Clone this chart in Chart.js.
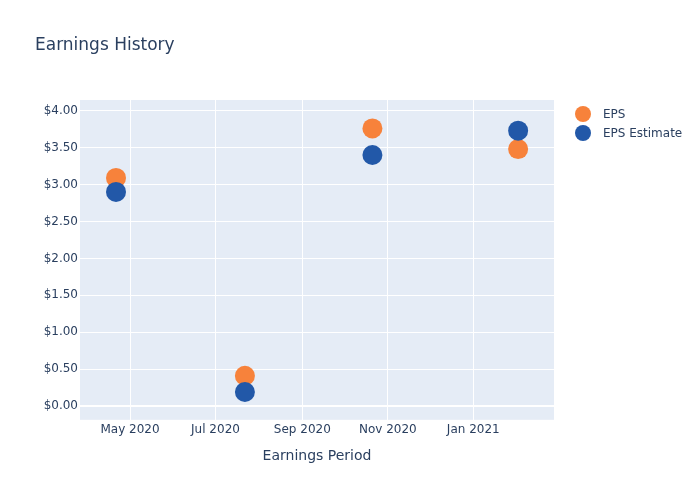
<!DOCTYPE html>
<html>
<head>
<meta charset="utf-8">
<script src="https://cdn.jsdelivr.net/npm/chart.js@4.4.1/dist/chart.umd.min.js"></script>
<style>
  body { margin: 0; background: #fff; }
</style>
</head>
<body>
<canvas id="myChart" width="700" height="500"></canvas>
<script>
    // earnings periods and values
    var periods = ['2020-04-21', '2020-07-22', '2020-10-21', '2021-02-02'];
    var eps = [3.09, 0.41, 3.76, 3.48];
    var epsEstimate = [2.90, 0.19, 3.40, 3.73];

    var yTicks = [0, 0.5, 1, 1.5, 2, 2.5, 3, 3.5, 4];
    var xTickDates = ['2020-05-01', '2020-07-01', '2020-09-01', '2020-11-01', '2021-01-01'];
    var xTickLabels = ['May 2020', 'Jul 2020', 'Sep 2020', 'Nov 2020', 'Jan 2021'];

    var FONT = '"DejaVu Sans", "Open Sans", sans-serif';
    var TEXT = '#2a3f5f';

    // no date adapter available, so dates become day numbers on a linear axis
    function toDay(s) {
        var p = s.split('-');
        return Date.UTC(+p[0], +p[1] - 1, +p[2]) / 86400000;
    }

    var legendPlugin = {
        id: 'sideLegend',
        afterDraw: function(chart) {
            var c = chart.ctx;
            c.save();
            c.font = '12px ' + FONT;
            c.textBaseline = 'middle';
            chart.data.datasets.forEach(function(ds, i) {
                var y = 114 + i * 19;
                c.fillStyle = ds.backgroundColor;
                c.beginPath();
                c.arc(583, y, 8, 0, Math.PI * 2);
                c.fill();
                c.fillStyle = TEXT;
                c.fillText(ds.label, 603, y + 1);
            });
            c.restore();
        }
    };

    var ctx = document.getElementById('myChart').getContext('2d');
    var myChart = new Chart(ctx, {
        type: 'scatter',
        data: {
            datasets: [
                {
                    label: 'EPS',
                    data: periods.map(function(d, i) { return {x: toDay(d), y: eps[i]}; }),
                    backgroundColor: '#f7823b',
                    borderColor: '#f7823b',
                    pointRadius: 10,
                    pointHoverRadius: 10,
                    borderWidth: 0,
                    order: 1
                },
                {
                    label: 'EPS Estimate',
                    data: periods.map(function(d, i) { return {x: toDay(d), y: epsEstimate[i]}; }),
                    backgroundColor: '#2258a8',
                    borderColor: '#2258a8',
                    pointRadius: 10,
                    pointHoverRadius: 10,
                    borderWidth: 0,
                    order: 0
                }
            ]
        },
        options: {
            responsive: false,
            animation: false,
            layout: {
                padding: {left: 35, right: 146, top: 0, bottom: 35}
            },
            scales: {
                x: {
                    type: 'linear',
                    min: toDay('2020-05-01') - 35.7,
                    max: toDay('2021-01-01') + 57.6,
                    afterBuildTicks: function(scale) {
                        scale.ticks = xTickDates.map(function(d) { return {value: toDay(d)}; });
                    },
                    ticks: {
                        padding: 3,
                        color: TEXT,
                        font: {family: FONT, size: 12},
                        maxRotation: 0,
                        callback: function(v) {
                            var i = xTickDates.map(toDay).indexOf(v);
                            return i >= 0 ? xTickLabels[i] : '';
                        }
                    },
                    grid: {color: '#ffffff', lineWidth: 1, drawTicks: false},
                    border: {display: false},
                    title: {
                        display: true,
                        text: 'Earnings Period',
                        color: TEXT,
                        font: {family: FONT, size: 14},
                        padding: {top: 8, bottom: 0}
                    }
                },
                y: {
                    min: -0.186,
                    max: 4.145,
                    afterBuildTicks: function(scale) {
                        scale.ticks = yTicks.map(function(v) { return {value: v}; });
                    },
                    afterFit: function(scale) {
                        scale.width = 45;
                    },
                    ticks: {
                        padding: 2,
                        color: TEXT,
                        font: {family: FONT, size: 12},
                        callback: function(v) { return '$' + v.toFixed(2); }
                    },
                    grid: {
                        color: '#ffffff',
                        drawTicks: false,
                        lineWidth: function(c) { return c.tick && c.tick.value === 0 ? 2 : 1; }
                    },
                    border: {display: false}
                }
            },
            plugins: {
                legend: {display: false},
                tooltip: {enabled: false},
                title: {
                    display: true,
                    text: 'Earnings History',
                    align: 'start',
                    color: TEXT,
                    font: {family: FONT, size: 17, weight: 'normal'},
                    padding: {top: 35, bottom: 44.6}
                }
            }
        },
        plugins: [
            {
                id: 'plotBg',
                beforeDraw: function(chart) {
                    var a = chart.chartArea;
                    chart.ctx.save();
                    chart.ctx.fillStyle = '#e5ecf6';
                    chart.ctx.fillRect(a.left, a.top, a.right - a.left, a.bottom - a.top);
                    chart.ctx.restore();
                }
            },
            legendPlugin
        ]
    });
</script>
</body>
</html>
